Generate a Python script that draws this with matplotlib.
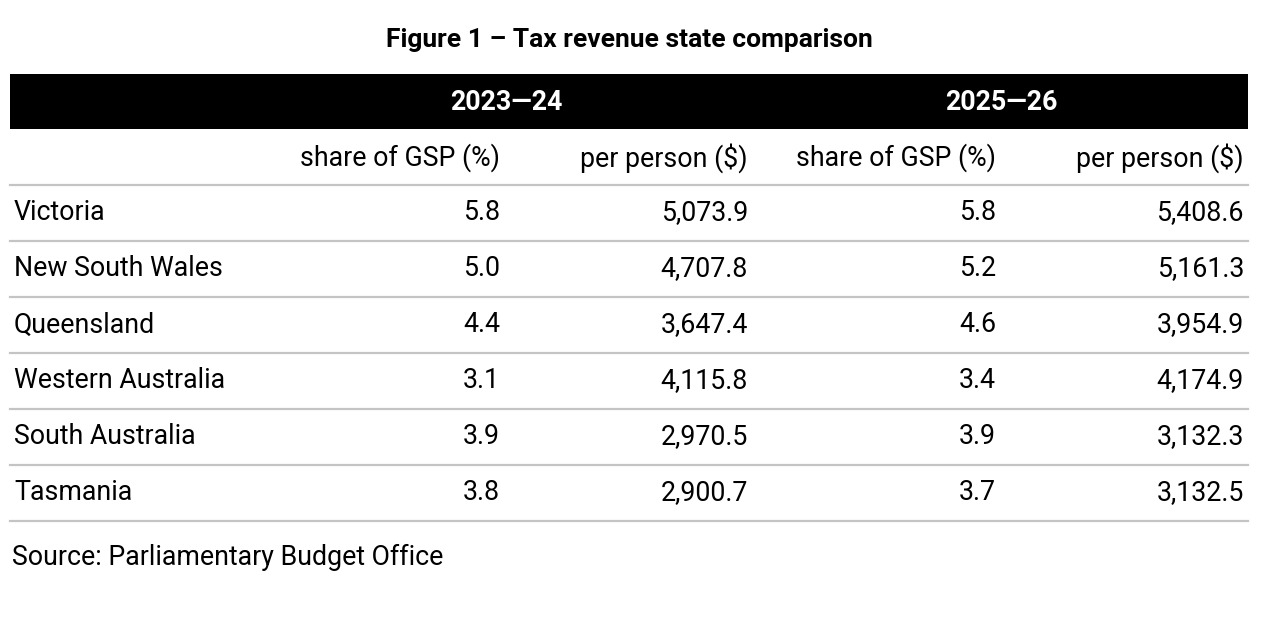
import matplotlib
matplotlib.use("Agg")
import matplotlib.pyplot as plt

# data
title = "Figure 1 – Tax revenue state comparison"
periods = ["2023—24", "2025—26"]
sub_headers = ["share of GSP (%)", "per person ($)", "share of GSP (%)", "per person ($)"]
states = ["Victoria", "New South Wales", "Queensland", "Western Australia",
          "South Australia", "Tasmania"]
gsp_2324 = [5.8, 5.0, 4.4, 3.1, 3.9, 3.8]
pp_2324 = [5073.9, 4707.8, 3647.4, 4115.8, 2970.5, 2900.7]
gsp_2526 = [5.8, 5.2, 4.6, 3.4, 3.9, 3.7]
pp_2526 = [5408.6, 5161.3, 3954.9, 4174.9, 3132.3, 3132.5]
source = "Source: Parliamentary Budget Office"

plt.rcParams['font.family'] = ['Roboto', 'DejaVu Sans']

W, H = 1286, 620
fig = plt.figure(figsize=(W / 100, H / 100), dpi=100)
ax = fig.add_axes([0, 0, 1, 1])
ax.set_xlim(0, W)
ax.set_ylim(H, 0)
ax.axis("off")

left, right = 10, 1248
fs = 19.3

ax.text(629, 40, title, ha="center", va="center", fontsize=19, fontweight="bold")

# header band
ax.add_patch(plt.Rectangle((left, 74), right - left, 55, color="black", lw=0))
for x, p in zip([506, 1001], periods):
    ax.text(x, 103, p, ha="center", va="center", color="white",
            fontsize=fs, fontweight="bold")

col_x = [500, 748, 996, 1244]
for x, s in zip(col_x, sub_headers):
    ax.text(x, 158, s, ha="right", va="center", fontsize=fs)
ax.plot([left, right], [184.5, 184.5], color="#c4c4c4", lw=1.6)

row_h = 56
for i, st in enumerate(states):
    y = 213 + i * row_h
    ax.text(14, y, st, ha="left", va="center", fontsize=fs)
    vals = [f"{gsp_2324[i]:.1f}", f"{pp_2324[i]:,.1f}",
            f"{gsp_2526[i]:.1f}", f"{pp_2526[i]:,.1f}"]
    for x, v in zip(col_x, vals):
        ax.text(x, y, v, ha="right", va="center", fontsize=fs)
    ax.plot([left, right], [y + 27.5, y + 27.5], color="#c4c4c4", lw=1.6)

ax.text(12, 557, source, ha="left", va="center", fontsize=fs)

fig.savefig("out.png", dpi=100, facecolor="white")
